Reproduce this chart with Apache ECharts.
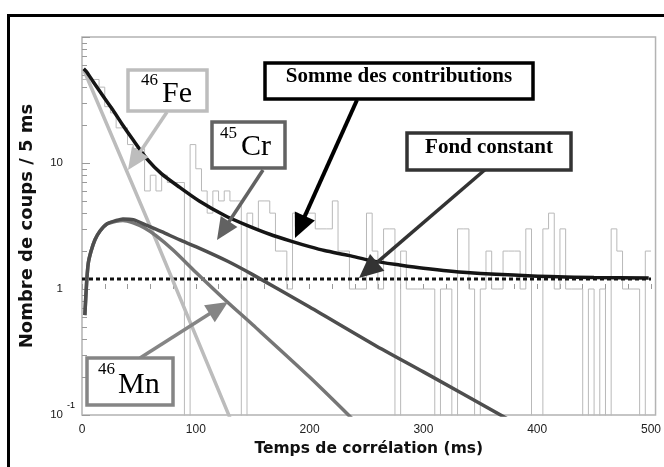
<!DOCTYPE html>
<html><head><meta charset="utf-8">
<script src="https://cdn.jsdelivr.net/npm/echarts@6/dist/echarts.min.js"></script>
<style>html,body{margin:0;padding:0;background:#fff}#c{width:664px;height:467px}</style>
</head><body><div id="c"></div>
<script>
// ---- data ----
const binWidthMs = 5;
// counts per 5 ms bin (0..500 ms)
const counts = [
  46, 46, 46, 40, 28, 25, 19, 19, 14, 13,
  13, 6, 8, 6, 8, 7, 7, 7, 0, 14,
  9, 6, 4, 6, 5, 6, 5, 5, 0, 4,
  3, 5, 5, 4, 2, 2, 1, 4, 3, 4,
  4, 3, 3, 3, 5, 2, 2, 1, 1, 1,
  4, 2, 1, 3, 3, 0, 2, 1, 1, 1,
  1, 1, 0, 1, 1, 0, 3, 3, 1, 0,
  1, 2, 1, 1, 2, 2, 2, 1, 3, 0,
  0, 3, 4, 1, 3, 1, 1, 1, 0, 1,
  0, 1, 0, 3, 2, 1, 1, 1, 0, 2
];
const sumT = [1.5, 4, 10, 20, 27, 35, 45, 57, 70, 86, 103, 125, 145, 165, 185, 200, 213, 235, 254, 279, 300, 338, 396, 450, 498];
const sumV = [56, 53, 44, 32.5, 26.5, 20.5, 15.2, 10.8, 8.2, 6.4, 5.0, 3.85, 3.2, 2.72, 2.38, 2.17, 2.02, 1.84, 1.68, 1.55, 1.46, 1.35, 1.27, 1.235, 1.22];
const feT = [1.5, 65, 130];
const feV = [55, 2.45, 0.095];
const crT = [2.5, 4, 5.5, 8, 11.4, 16, 22, 30, 36, 45, 57, 70, 86, 100, 128, 150, 200, 257, 300, 375];
const crV = [0.62, 1.1, 1.6, 2.0, 2.46, 2.9, 3.3, 3.5, 3.6, 3.55, 3.2, 2.85, 2.45, 2.17, 1.66, 1.3, 0.72, 0.36, 0.22, 0.092];
const mnT = [2.5, 4, 5.5, 8, 11.4, 16, 22, 30, 36, 45, 55, 65, 80, 100, 127, 150, 200, 245];
const mnV = [0.62, 1.1, 1.6, 2.0, 2.46, 2.9, 3.28, 3.45, 3.5, 3.35, 3.05, 2.65, 2.04, 1.36, 0.8, 0.52, 0.2, 0.08];
const bkgLevel = 1.2;
const bkgT = [0, 500];
const xLabelValues = [0, 100, 200, 300, 400, 500];
const xTickValues = [0,20,40,60,80,100,120,140,160,180,200,220,240,260,280,300,320,340,360,380,400,420,440,460,480,500];
const yTickValues = [0.1, 1, 10];
const yTickText = ['10', '1', '10'];
const yMinorValues = [0.2,0.3,0.4,0.5,0.6,0.7,0.8,0.9,2,3,4,5,6,7,8,9,20,30,40,50,60,70,80,90];

// ---- build ----
const ZERO_FLOOR = 0.01; // empty bins drop below the axis bottom
const histData = counts.map((c, i) => [i * binWidthMs, c > 0 ? c : ZERO_FLOOR]);
histData.push([counts.length * binWidthMs, counts[counts.length - 1] > 0 ? counts[counts.length - 1] : ZERO_FLOOR]);
const zip = (t, v) => t.map((x, i) => [x, v[i]]);

function arrow(x1, y1, x2, y2, color, w, hl, hw) {
  const dx = x2 - x1, dy = y2 - y1, L = Math.hypot(dx, dy), ux = dx / L, uy = dy / L;
  const bx = x2 - ux * hl, by = y2 - uy * hl, px = -uy, py = ux;
  return [
    {type: 'line', silent: true, z: 100, shape: {x1: x1, y1: y1, x2: bx + ux * 2, y2: by + uy * 2}, style: {stroke: color, lineWidth: w}},
    {type: 'polygon', silent: true, z: 101, shape: {points: [[x2, y2], [bx + px * hw / 2, by + py * hw / 2], [bx - px * hw / 2, by - py * hw / 2]]}, style: {fill: color}}
  ];
}
function box(x, y, w, h, color, lw) {
  return {type: 'rect', silent: true, z: 102, shape: {x: x, y: y, width: w, height: h}, style: {fill: '#fff', stroke: color, lineWidth: lw}};
}
function txt(x, y, s, size, weight, family, align) {
  return {type: 'text', silent: true, z: 103, x: x, y: y, style: {text: s, fontSize: size, fontWeight: weight, fontFamily: family, fill: '#000', align: align || 'left', verticalAlign: 'middle'}};
}
const serif = '"Liberation Serif", "Times New Roman", serif';

const graphics = [].concat(
  arrow(167, 112, 128, 170, '#bdbdbd', 3.5, 22, 20),
  arrow(263, 170, 217, 240, '#626262', 3.5, 22, 20),
  arrow(140, 358, 228, 302, '#858585', 3.5, 22, 20),
  arrow(357, 100, 295, 238, '#000000', 4, 24, 22),
  arrow(487, 168, 359, 278, '#333333', 3.5, 24, 22),
  [
    box(128, 70, 79, 41, '#bdbdbd', 3.5),
    txt(141, 81, '46', 17, 'normal', serif),
    txt(162, 94, 'Fe', 30, 'normal', serif),
    box(212, 122, 73, 46, '#626262', 3.5),
    txt(220, 134, '45', 17, 'normal', serif),
    txt(241, 147, 'Cr', 30, 'normal', serif),
    box(87, 358, 86, 47, '#858585', 3.5),
    txt(98, 370, '46', 17, 'normal', serif),
    txt(118, 385, 'Mn', 30, 'normal', serif),
    box(265, 63, 268, 36, '#000', 3.5),
    txt(399, 77, 'Somme des contributions', 21, 'bold', serif, 'center'),
    box(407, 133, 164, 37, '#333', 3.5),
    txt(489, 148, 'Fond constant', 21, 'bold', serif, 'center'),
    txt(67, 406, '-1', 9, 'normal', '"Liberation Sans", Arial, sans-serif'),
    {type: 'rect', silent: true, z: 110, shape: {x: 8.5, y: 15.5, width: 700, height: 500}, style: {fill: null, stroke: '#000', lineWidth: 3}}
  ]
);

const chart = echarts.init(document.getElementById('c'), null, {renderer: 'canvas'});
chart.setOption({
  animation: false,
  backgroundColor: '#fff',
  grid: {left: 82, right: 7, top: 37, bottom: 52, show: true, borderColor: '#b3b3b3', borderWidth: 1.5},
  xAxis: {
    type: 'value', min: 0, max: 504, interval: 100,
    axisLine: {show: false},
    axisTick: {show: true, inside: true, length: 5, customValues: xTickValues, lineStyle: {color: '#9a9a9a'}},
    axisLabel: {customValues: xLabelValues, fontSize: 12, color: '#222', margin: 9, fontFamily: '"Liberation Sans", Arial, sans-serif'},
    splitLine: {show: false},
    name: 'Temps de corrélation (ms)', nameLocation: 'middle', nameGap: 25,
    nameTextStyle: {fontFamily: '"DejaVu Sans", sans-serif', fontWeight: 'bold', fontSize: 15.5, color: '#111'}
  },
  yAxis: [{
    type: 'log', logBase: 10, min: 0.1, max: 100,
    axisLine: {show: false},
    axisTick: {show: true, inside: true, length: 8, lineStyle: {color: '#9a9a9a'}},
    axisLabel: {
      margin: 19, fontSize: 11.5, color: '#222', fontFamily: '"Liberation Sans", Arial, sans-serif',
      formatter: function (v) {
        for (let i = 0; i < yTickValues.length; i++) {
          if (Math.abs(Math.log10(v) - Math.log10(yTickValues[i])) < 1e-6) return yTickText[i];
        }
        return '';
      }
    },
    splitLine: {show: false},
    name: 'Nombre de coups / 5 ms', nameLocation: 'middle', nameGap: 46,
    nameTextStyle: {fontFamily: '"DejaVu Sans", sans-serif', fontWeight: 'bold', fontSize: 18, color: '#111'}
  }, {
    type: 'value', min: -1, max: 2, position: 'left', offset: 0,
    axisLine: {show: false}, axisLabel: {show: false}, splitLine: {show: false},
    axisTick: {show: true, inside: true, length: 5, customValues: yMinorValues.map(Math.log10), lineStyle: {color: '#9a9a9a'}}
  }],
  graphic: graphics,
  series: [
    {type: 'line', name: 'data', data: histData, step: 'end', symbol: 'none', yAxisIndex: 0, z: 1, silent: true,
     lineStyle: {color: '#b9b9b9', width: 1}},
    {type: 'line', name: 'Fond constant', data: bkgT.map(t => [t, bkgLevel]), symbol: 'none', yAxisIndex: 0, z: 3, silent: true,
     lineStyle: {color: '#111', width: 3, type: [4, 3]}},
    {type: 'line', name: '46Fe', data: zip(feT, feV), symbol: 'none', yAxisIndex: 0, z: 4, silent: true,
     lineStyle: {color: '#bcbcbc', width: 3.5}},
    {type: 'line', name: '46Mn', data: zip(mnT, mnV), symbol: 'none', smooth: 0.25, yAxisIndex: 0, z: 5, silent: true,
     lineStyle: {color: '#767676', width: 3.5}},
    {type: 'line', name: '45Cr', data: zip(crT, crV), symbol: 'none', smooth: 0.25, yAxisIndex: 0, z: 6, silent: true,
     lineStyle: {color: '#4e4e4e', width: 3.5}},
    {type: 'line', name: 'Somme', data: zip(sumT, sumV), symbol: 'none', smooth: 0.25, yAxisIndex: 0, z: 7, silent: true,
     lineStyle: {color: '#151515', width: 3.5}}
  ]
});
</script>
</body></html>
